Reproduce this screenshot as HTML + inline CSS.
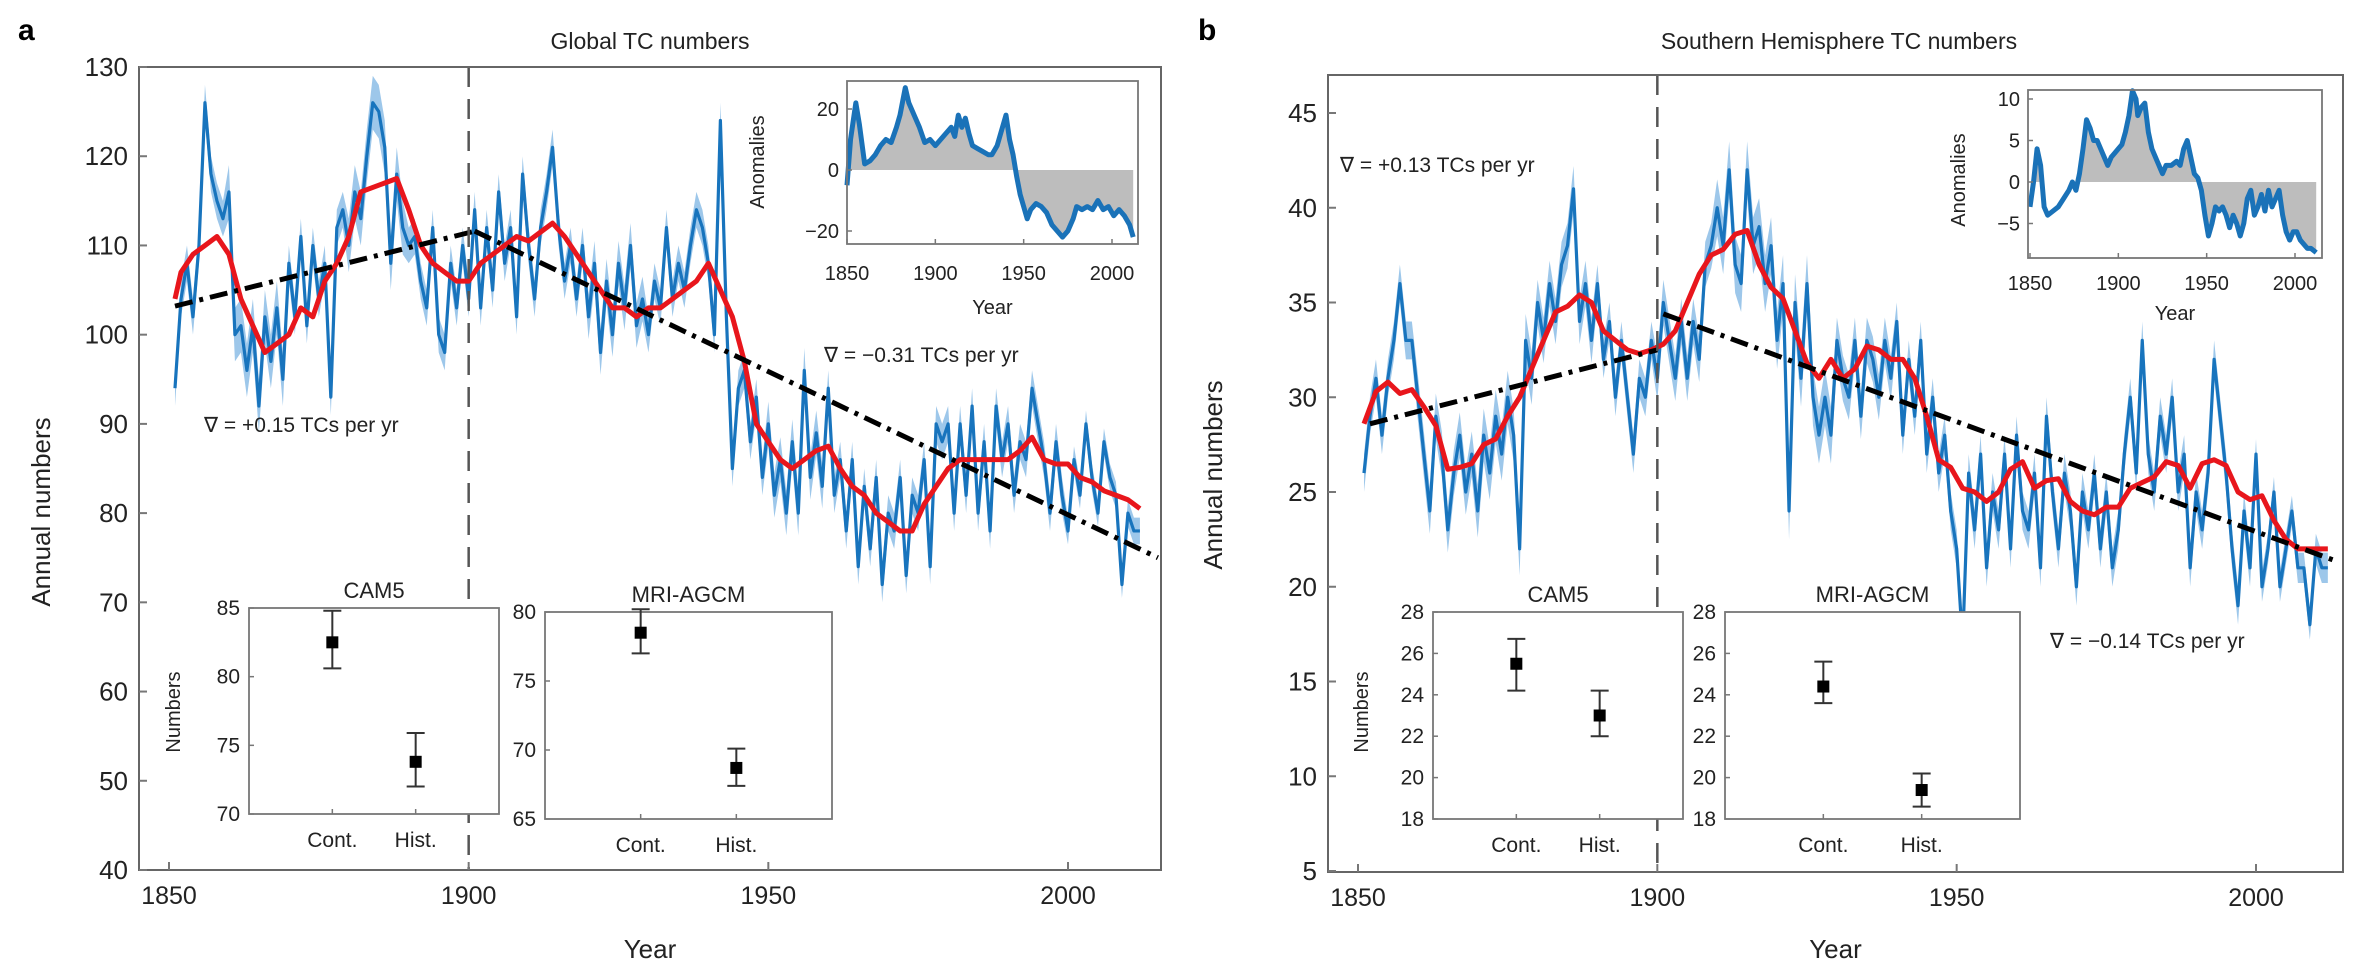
<!DOCTYPE html>
<html><head><meta charset="utf-8"><style>
body{margin:0;background:#fff;}
svg{display:block;font-family:"Liberation Sans",Arial,sans-serif;}
</style></head><body>
<svg id="fig" width="2362" height="975" viewBox="0 0 2362 975" xmlns="http://www.w3.org/2000/svg">
<rect width="2362" height="975" fill="#fff"/>
<text x="18" y="40" font-size="30" font-weight="bold">a</text>
<text x="1198" y="40" font-size="30" font-weight="bold">b</text>
<text x="650" y="49" font-size="23" text-anchor="middle" fill="#222">Global TC numbers</text>
<text x="1839" y="49" font-size="23" text-anchor="middle" fill="#222">Southern Hemisphere TC numbers</text>
</svg>
<script>
const yearsA = [];for(let y=1851;y<=2012;y++)yearsA.push(y);
const globalVals=[94,104,108,102,110,126,118,115,113,116,100,101,96,101,92,102,97,103,95,108,102,111,101,110,104,108,93,112,114,110,116,113,120,126,125,121,108,118,112,110,111,106,103,112,100,98,108,103,110,104,114,103,112,105,116,108,112,102,118,110,104,112,116,121,112,106,110,104,110,102,108,98,106,100,108,103,110,101,104,100,106,103,112,104,108,105,110,114,112,108,100,124,102,85,94,96,88,93,84,90,82,86,80,88,80,96,84,89,83,94,82,86,78,86,74,83,76,84,72,80,78,84,73,82,80,86,74,90,88,90,80,90,82,92,80,88,78,92,86,90,82,88,86,94,90,86,80,88,82,78,86,82,90,84,80,88,84,82,72,80,78,78];
const shVals=[26,29,31,28,31,33,36,33,33,30,27,24,29,27,23,26,28,25,27,24,28,26,29,27,30,28,22,33,31,35,33,36,34,37,38,41,34,36,33,36,32,34,30,33,30,27,31,30,33,31,35,33,31,34,31,34,32,37,38,40,38,42,37,36,42,38,39,36,38,33,36,24,35,31,36,30,28,30,28,33,31,30,33,29,33,32,30,33,31,34,28,32,29,33,27,30,26,28,24,22,17,26,23,27,21,25,23,27,22,28,24,23,26,21,29,25,22,26,24,20,25,23,26,22,25,21,23,27,30,26,33,27,25,29,27,30,25,27,21,25,23,26,32,29,26,22,19,24,21,27,20,22,25,20,22,24,21,21,18,22,21,21];
const spreadGlobal=[2,3,2,3,2,2,2,2.5,2,2,2.5,2,2,2,2,1.5,1.5];
const spreadSH=[1,1.2,1.4,1.2,1,1.2,1.5,1.5,1.2,1,1,1,1,1,1,0.8,0.8];
const redYearsA=[1851,1852,1854,1856,1858,1860,1862,1864,1866,1868,1870,1872,1874,1876,1878,1880,1882,1884,1886,1888,1890,1892,1894,1896,1898,1900,1902,1904,1906,1908,1910,1912,1914,1916,1918,1920,1922,1924,1926,1928,1930,1932,1934,1936,1938,1940,1942,1944,1946,1948,1950,1952,1954,1956,1958,1960,1962,1964,1966,1968,1970,1972,1974,1976,1978,1980,1982,1984,1986,1988,1990,1992,1994,1996,1998,2000,2002,2004,2006,2008,2010,2012];
const redGlobal=[104,107,109,110,111,109,104,101,98,99,100,103,102,106,108,111,116,116.5,117,117.5,114,110,108,107,106,106,108,109,110,111,110.5,111.5,112.5,111,109,107,105,103,103,102,103,103,104,105,106,108,105,102,97,90,88,86,85,86,87,87.5,85,83,82,80,79,78,78,81,83,85,86,86,86,86,86,87,88.5,86,85.5,85.5,84,83.5,82.5,82,81.5,80.5];
const redYearsB=[1851,1853,1855,1857,1859,1861,1863,1865,1867,1869,1871,1873,1875,1877,1879,1881,1883,1885,1887,1889,1891,1893,1895,1897,1899,1901,1903,1905,1907,1909,1911,1913,1915,1917,1919,1921,1923,1925,1927,1929,1931,1933,1935,1937,1939,1941,1943,1945,1947,1949,1951,1953,1955,1957,1959,1961,1963,1965,1967,1969,1971,1973,1975,1977,1979,1981,1983,1985,1987,1989,1991,1993,1995,1997,1999,2001,2003,2005,2007,2009,2011,2012];
const redSH=[28.6,30.3,30.8,30.2,30.4,29.5,28.5,26.2,26.3,26.5,27.5,27.8,29,30,31.5,33,34.5,34.8,35.4,35,33.5,33,32.5,32.3,32.5,32.8,33.5,35,36.5,37.5,37.8,38.6,38.8,37,35.8,35.2,33.5,31.8,31,32,31,31.5,32.7,32.5,32,32,31,29,26.7,26.3,25.2,25,24.5,25,26.2,26.6,25.2,25.6,25.7,24.5,24,23.8,24.2,24.2,25.2,25.5,25.8,26.6,26.4,25.2,26.5,26.7,26.4,25,24.6,24.8,23.5,22.5,22,22,22,22];
const trendA=[[1851,103.2],[1901,111.6],[2015,75]];
const trendB=[[1852,28.6],[1900,32.5],[1901,34.4],[2013,21.4]];
const anomYearsA=[1850,1852,1855,1857,1860,1863,1866,1869,1872,1875,1878,1880,1883,1885,1888,1891,1894,1897,1900,1903,1906,1909,1911,1913,1915,1917,1919,1921,1924,1927,1930,1932,1935,1938,1940,1942,1944,1946,1948,1950,1952,1954,1957,1960,1963,1966,1969,1972,1975,1978,1980,1983,1986,1989,1992,1995,1998,2001,2004,2007,2010,2012];
const anomA=[-5,10,22,15,2,3,5,8,10,9,14,18,27,22,18,14,9,10,8,10,12,14,11,18,14,17,12,8,7,6,5,5,8,14,18,10,5,-2,-8,-12,-16,-13,-11,-12,-14,-18,-20,-22,-20,-16,-12,-13,-12,-13,-10,-13,-12,-15,-13,-15,-18,-22];
const anomYearsB=[1850,1852,1854,1856,1858,1860,1863,1866,1869,1872,1874,1876,1878,1880,1882,1884,1886,1888,1890,1892,1894,1896,1898,1900,1902,1904,1906,1908,1910,1911,1913,1915,1917,1919,1921,1923,1925,1927,1930,1933,1935,1937,1939,1941,1943,1945,1947,1949,1951,1953,1955,1957,1959,1961,1963,1965,1967,1969,1971,1973,1975,1977,1979,1981,1983,1985,1987,1989,1991,1993,1995,1997,1999,2001,2003,2005,2007,2009,2012];
const anomB=[-3,0,4,2,-3,-4,-3.5,-3,-2,-1,0,-1,1,4,7.5,6.5,5,5,4,3,2,3,3.5,4,4.5,6,8,11,10,8,9,9.5,6,4,3,2,1,2,2,2.5,2,4,5,3,1,0.5,-1,-4,-6.5,-5,-3,-3.5,-3,-4,-5.5,-4,-5,-6.5,-5,-2,-1,-4,-3,-1.5,-3.5,-1,-3,-2,-1,-4,-6,-7,-6,-6,-7,-7.5,-8,-8,-8.5];
const errCats=["Cont.","Hist."];
const camA_mean=[82.5,73.8],camA_lo=[80.6,72.0],camA_hi=[84.8,75.9];
const mriA_mean=[78.5,68.7],mriA_lo=[77.0,67.4],mriA_hi=[80.2,70.1];
const camB_mean=[25.5,23.0],camB_lo=[24.2,22.0],camB_hi=[26.7,24.2];
const mriB_mean=[24.4,19.4],mriB_lo=[23.6,18.6],mriB_hi=[25.6,20.2];
const ticksYears=[1850,1900,1950,2000];
const ticksA=[40,50,60,70,80,90,100,110,120,130];
const ticksB=[5,10,15,20,25,30,35,40,45];

const svg=document.getElementById('fig');
const NS='http://www.w3.org/2000/svg';
function mk(tag,attrs,parent){const e=document.createElementNS(NS,tag);for(const k in attrs)e.setAttribute(k,attrs[k]);(parent||svg).appendChild(e);return e;}
function txt(x,y,s,size,anchor,parent,rot){const t=mk('text',{x:x,y:y,'font-size':size,'text-anchor':anchor||'middle',fill:'#222'},parent);if(rot)t.setAttribute('transform','rotate(-90 '+x+' '+y+')');t.textContent=s;return t;}
function lin(d0,d1,r0,r1){return v=>r0+(v-d0)/(d1-d0)*(r1-r0);}
function spreadAt(yr,arr){const i=Math.min(arr.length-1,Math.floor((yr-1850)/10));return arr[i];}

function mainPanel(o){
  const g=mk('g',{});
  
  
  const X=lin(1850,2000,o.xp[0],o.xp[1]);
  const Y=lin(o.yp[0],o.yp[2],o.yp[1],o.yp[3]);
  let up=[],dn=[];
  o.years.forEach((yr,i)=>{const s=spreadAt(yr,o.spread);up.push(X(yr)+','+Y(o.vals[i]+s));dn.unshift(X(yr)+','+Y(o.vals[i]-s));});
  const band=mk('polygon',{points:up.concat(dn).join(' '),fill:'#8cbde6',opacity:0.85},g);
  
  
  const bl=mk('polyline',{points:o.years.map((yr,i)=>X(yr)+','+Y(o.vals[i])).join(' '),fill:'none',stroke:'#1874bd','stroke-width':3.2,'stroke-linejoin':'round'},g);
  
  
  const rl=mk('polyline',{points:o.ryears.map((yr,i)=>X(yr)+','+Y(o.rvals[i])).join(' '),fill:'none',stroke:'#e8161c','stroke-width':5,'stroke-linejoin':'round'},g);
  
  
  for(let k=0;k<o.trend.length-1;k++){
    if(o.trend[k+1][0]-o.trend[k][0]<=1) continue;
    const t=mk('line',{x1:X(o.trend[k][0]),y1:Y(o.trend[k][1]),x2:X(o.trend[k+1][0]),y2:Y(o.trend[k+1][1]),stroke:'#000','stroke-width':5,'stroke-dasharray':'18 7 4 7'},g);
    
    
  }
  const vl=mk('line',{x1:X(1900),y1:o.box[1],x2:X(1900),y2:o.box[3],stroke:'#555','stroke-width':2.5,'stroke-dasharray':'20 12'},g);
  
  
  const fr=mk('rect',{x:o.box[0],y:o.box[1],width:o.box[2]-o.box[0],height:o.box[3]-o.box[1],fill:'none',stroke:'#666','stroke-width':2},g);
  
  
  o.yticks.forEach(v=>{mk('line',{x1:o.box[0],x2:o.box[0]+8,y1:Y(v),y2:Y(v),stroke:'#777','stroke-width':2},g);
    const t=txt(o.box[0]-11,Y(v)+9,String(v),26,'end',g);
    
    });
  ticksYears.forEach(v=>{mk('line',{x1:X(v),x2:X(v),y1:o.box[3],y2:o.box[3]-8,stroke:'#777','stroke-width':2},g);
    const t=txt(X(v),o.box[3]+34,String(v),25,'middle',g);
    
    });
  const xt=txt((o.box[0]+o.box[2])/2,958,'Year',26,'middle',g);
  
  
  const yt=txt(o.ylabX,o.ylabY,'Annual numbers',26,'middle',g,true);
  
  
}

function anomInset(o){
  const g=mk('g',{});
  
  
  const X=lin(1850,2000,o.xp[0],o.xp[1]);
  const Y=lin(0,o.yp[0],o.yp[1],o.yp[2]);
  mk('rect',{x:o.box[0],y:o.box[1],width:o.box[2]-o.box[0],height:o.box[3]-o.box[1],fill:'#fff'},g);
  let pos=[X(o.years[0])+','+Y(0)];
  o.years.forEach((yr,i)=>{if(yr<1948)pos.push(X(yr)+','+Y(Math.max(0,o.vals[i])));});
  pos.push(X(1946)+','+Y(0));
  const pf=mk('polygon',{points:pos.join(' '),fill:'#bdbdbd'},g);
  
  
  let neg=[X(1946)+','+Y(0)];
  o.years.forEach((yr,i)=>{if(yr>=1946)neg.push(X(yr)+','+Y(Math.min(0,o.vals[i])));});
  neg.push(X(o.years[o.years.length-1])+','+Y(0));
  const nf=mk('polygon',{points:neg.join(' '),fill:'#bdbdbd'},g);
  
  
  const l=mk('polyline',{points:o.years.map((yr,i)=>X(yr)+','+Y(o.vals[i])).join(' '),fill:'none',stroke:'#1a72b8','stroke-width':o.lw,'stroke-linejoin':'round'},g);
  
  
  mk('rect',{x:o.box[0],y:o.box[1],width:o.box[2]-o.box[0],height:o.box[3]-o.box[1],fill:'none',stroke:'#777','stroke-width':1.8},g);
  o.yticks.forEach(v=>{mk('line',{x1:o.box[0],x2:o.box[0]+5,y1:Y(v),y2:Y(v),stroke:'#777','stroke-width':1.5},g);
    const t=txt(o.box[0]-8,Y(v)+7,v<0?'\u2212'+(-v):String(v),20,'end',g);
    
    });
  ticksYears.forEach(v=>{mk('line',{x1:X(v),x2:X(v),y1:o.box[3],y2:o.box[3]-5,stroke:'#777','stroke-width':1.5},g);
    const t=txt(X(v),o.tickY,String(v),20,'middle',g);
    
    });
  const yr=txt((o.box[0]+o.box[2])/2,o.yearY,'Year',20,'middle',g);
  
  
  const an=txt(o.anX,o.anY,'Anomalies',20,'middle',g,true);
  
  
}

function errInset(o){
  const g=mk('g',{});
  
  
  const Y=lin(o.yd[0],o.yd[1],o.box[3],o.box[1]);
  const w=o.box[2]-o.box[0];
  mk('rect',{x:o.box[0],y:o.box[1],width:w,height:o.box[3]-o.box[1],fill:'#fff',stroke:'#777','stroke-width':1.8},g);
  const ti=txt((o.box[0]+o.box[2])/2,o.box[1]-10,o.title,22,'middle',g);
  
  
  o.yticks.forEach(v=>{mk('line',{x1:o.box[0],x2:o.box[0]+5,y1:Y(v),y2:Y(v),stroke:'#777','stroke-width':1.5},g);
    const t=txt(o.box[0]-9,Y(v)+7,String(v),21,'end',g);
    
    });
  errCats.forEach((c,i)=>{
    const cx=o.box[0]+w*(i+1)/3;
    mk('line',{x1:cx,x2:cx,y1:o.box[3],y2:o.box[3]-5,stroke:'#777','stroke-width':1.5},g);
    const t=txt(cx,o.box[3]+33,c,21,'middle',g);
    
    
    const eb=mk('path',{d:'M'+cx+' '+Y(o.lo[i])+'V'+Y(o.hi[i])+'M'+(cx-9)+' '+Y(o.lo[i])+'H'+(cx+9)+'M'+(cx-9)+' '+Y(o.hi[i])+'H'+(cx+9),stroke:'#333','stroke-width':2,fill:'none'},g);
    
    
    const m=mk('rect',{x:cx-6,y:Y(o.mean[i])-6,width:12,height:12,fill:'#000'},g);
    
    
  });
  if(o.numX){
    const nl=txt(o.numX,712,'Numbers',20,'middle',g,true);
    
    
  }
}

mainPanel({name:'panel-a-global',box:[139,67,1161,870],xp:[169,1068],yp:[130,67,40,870],years:yearsA,vals:globalVals,spread:spreadGlobal,ryears:redYearsA,rvals:redGlobal,trend:trendA,yticks:ticksA,ylabX:50,ylabY:512});
mainPanel({name:'panel-b-southern',box:[1328,75,2343,872],xp:[1358,2256],yp:[45,113,5,871],years:yearsA,vals:shVals,spread:spreadSH,ryears:redYearsB,rvals:redSH,trend:trendB,yticks:ticksB,ylabX:1222,ylabY:475});
anomInset({name:'inset-anomalies-global',box:[847,81,1138,244],xp:[847,1112],yp:[20,170,109],years:anomYearsA,vals:anomA,yticks:[20,0,-20],tickY:280,yearY:314,anX:764,anY:162,lw:5});
anomInset({name:'inset-anomalies-southern',box:[2028,90,2322,258],xp:[2030,2295],yp:[10,182,99],years:anomYearsB,vals:anomB,yticks:[10,5,0,-5],tickY:290,yearY:320,anX:1965,anY:180,lw:5});
errInset({name:'inset-cam5-global',box:[249,608,499,814],yd:[70,85],yticks:[70,75,80,85],title:'CAM5',mean:camA_mean,lo:camA_lo,hi:camA_hi,numX:180});
errInset({name:'inset-mri-global',box:[545,612,832,819],yd:[65,80],yticks:[65,70,75,80],title:'MRI-AGCM',mean:mriA_mean,lo:mriA_lo,hi:mriA_hi,numX:0});
errInset({name:'inset-cam5-southern',box:[1433,612,1683,819],yd:[18,28],yticks:[18,20,22,24,26,28],title:'CAM5',mean:camB_mean,lo:camB_lo,hi:camB_hi,numX:1368});
errInset({name:'inset-mri-southern',box:[1725,612,2020,819],yd:[18,28],yticks:[18,20,22,24,26,28],title:'MRI-AGCM',mean:mriB_mean,lo:mriB_lo,hi:mriB_hi,numX:0});

function note(x,y,s,name){const t=txt(x,y,s,21,'start');

}
note(204,432,'\u2207 = +0.15 TCs per yr','trend-note-a-early');
note(824,362,'\u2207 = \u22120.31 TCs per yr','trend-note-a-late');
note(1340,172,'\u2207 = +0.13 TCs per yr','trend-note-b-early');
note(2050,648,'\u2207 = \u22120.14 TCs per yr','trend-note-b-late');
</script>
</body></html>
